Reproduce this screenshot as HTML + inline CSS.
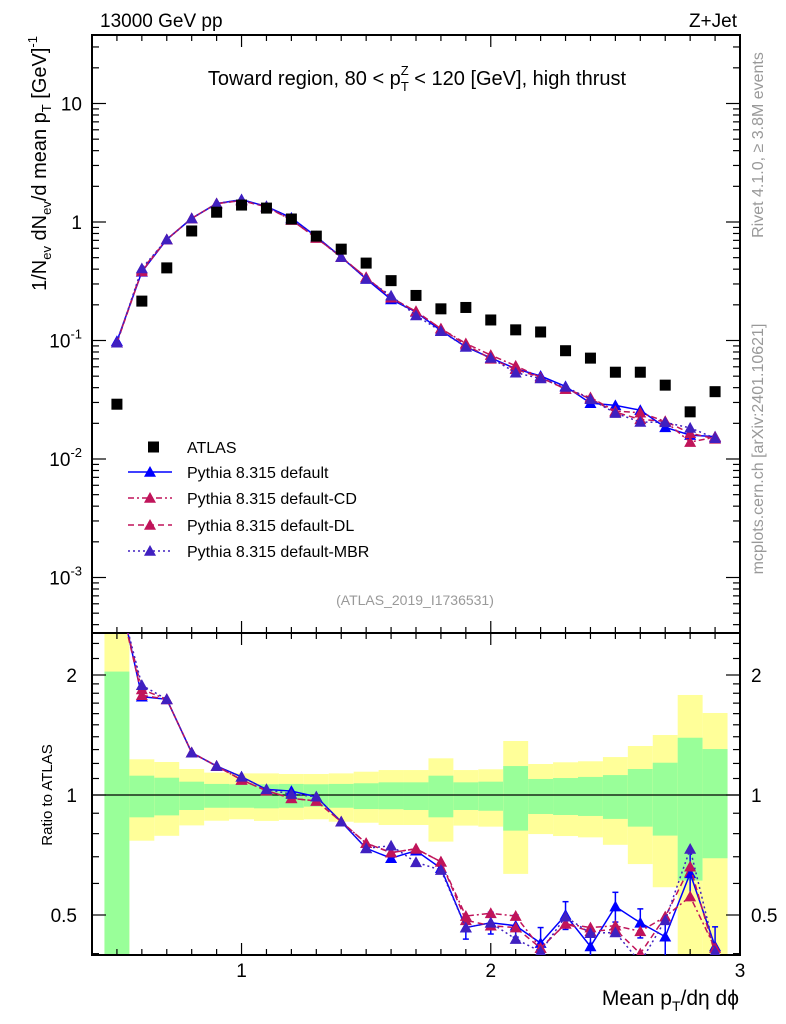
<!DOCTYPE html>
<html><head><meta charset="utf-8"><style>
html,body{margin:0;padding:0;background:#fff}
svg{display:block;font-family:"Liberation Sans",sans-serif}
</style></head><body>
<svg id="c" width="786" height="1024" viewBox="0 0 786 1024" xmlns="http://www.w3.org/2000/svg">
<text x="100" y="27" font-size="19">13000 GeV pp</text>
<text x="737" y="27" font-size="19" text-anchor="end">Z+Jet</text>
<text x="417" y="85" font-size="20" text-anchor="middle">Toward region, 80 &lt; p<tspan font-size="13" dy="6">T</tspan><tspan font-size="13" dx="-8" dy="-16">Z</tspan><tspan dy="10"> &lt; 120 [GeV], high thrust</tspan></text>
<text transform="translate(46,36) rotate(-90)" font-size="20" text-anchor="end">1/N<tspan font-size="13" dy="5">ev</tspan><tspan dy="-5"> dN</tspan><tspan font-size="13" dy="5">ev</tspan><tspan dy="-5">/d mean p</tspan><tspan font-size="13" dy="5">T</tspan><tspan dy="-5"> [GeV]</tspan><tspan font-size="13" dy="-9">-1</tspan></text>
<text transform="translate(52,795) rotate(-90)" font-size="15" text-anchor="middle">Ratio to ATLAS</text>
<text x="739" y="1005" font-size="21" text-anchor="end">Mean p<tspan font-size="14" dy="6">T</tspan><tspan dy="-6">/dη dϕ</tspan></text>
<text transform="translate(763,145) rotate(-90)" font-size="16" fill="#999" text-anchor="middle">Rivet 4.1.0, ≥ 3.8M events</text>
<text transform="translate(763,449) rotate(-90)" font-size="16" fill="#999" text-anchor="middle">mcplots.cern.ch [arXiv:2401.10621]</text>
<text x="415" y="605" font-size="14" fill="#999" text-anchor="middle">(ATLAS_2019_I1736531)</text>
<g id="g"></g>
</svg>
<script>
const xCenters=[0.5,0.6,0.7,0.8,0.9,1.0,1.1,1.2,1.3,1.4,1.5,1.6,1.7,1.8,1.9,2.0,2.1,2.2,2.3,2.4,2.5,2.6,2.7,2.8,2.9];
const atlasVals=[0.029,0.215,0.41,0.84,1.21,1.39,1.31,1.06,0.76,0.59,0.45,0.32,0.24,0.185,0.19,0.149,0.123,0.118,0.082,0.071,0.054,0.054,0.042,0.025,0.037];
const ratioDefault=[3.4,1.765,1.738,1.277,1.182,1.111,1.033,1.023,0.99,0.857,0.735,0.694,0.725,0.655,0.465,0.478,0.47,0.425,0.5,0.417,0.525,0.478,0.441,0.636,0.417];
const ratioCD=[3.3,1.84,1.738,1.277,1.182,1.091,1.025,0.981,0.966,0.857,0.757,0.717,0.733,0.68,0.497,0.505,0.497,0.413,0.475,0.465,0.47,0.455,0.495,0.556,0.413];
const ratioDL=[3.3,1.78,1.738,1.277,1.182,1.091,1.025,0.981,0.966,0.857,0.757,0.717,0.733,0.68,0.485,0.47,0.465,0.413,0.475,0.455,0.46,0.40,0.495,0.661,0.40];
const ratioMBR=[3.3,1.886,1.738,1.277,1.182,1.111,1.033,1.005,0.99,0.857,0.735,0.746,0.678,0.648,0.465,0.478,0.435,0.405,0.495,0.45,0.452,0.38,0.485,0.732,0.405];
const errDefault=[0,0,0,0,0,0,0,0,0,0,0,0,0,0.02,0.03,0.03,0.03,0.04,0.04,0.04,0.045,0.04,0.05,0.08,0.05];
const bandInnerHi=[2.04,1.118,1.105,1.08,1.066,1.064,1.064,1.066,1.064,1.066,1.07,1.076,1.076,1.118,1.076,1.08,1.182,1.097,1.103,1.11,1.122,1.162,1.205,1.392,1.304];
const bandInnerLo=[0.3,0.879,0.889,0.917,0.929,0.929,0.926,0.929,0.935,0.929,0.922,0.921,0.917,0.879,0.917,0.913,0.814,0.896,0.891,0.886,0.871,0.833,0.791,0.610,0.694];
const bandOuterHi=[3,1.229,1.21,1.162,1.138,1.133,1.133,1.129,1.129,1.133,1.144,1.155,1.155,1.236,1.155,1.16,1.366,1.196,1.208,1.215,1.245,1.327,1.414,1.782,1.606];
const bandOuterLo=[0.3,0.768,0.79,0.839,0.862,0.869,0.861,0.866,0.869,0.857,0.852,0.841,0.841,0.764,0.838,0.833,0.634,0.798,0.789,0.783,0.750,0.671,0.587,0.3,0.3];
const xTickLabels=["1","2","3"];
const yTickLabels=["10","1","10","10","10"];

const NS="http://www.w3.org/2000/svg";
const g=document.getElementById('g');
const L=92,R=740,T=35,B=633,RB=955;
function X(v){return L+(v-0.4)/2.6*(R-L);}
function Y(v){return 222-118.5*Math.log10(v);}
function RY(v){return 795-120*Math.log2(v);}
function mk(t,a,p){const e=document.createElementNS(NS,t);for(const k in a)e.setAttribute(k,a[k]);(p||g).appendChild(e);return e;}

const bands=mk('g',{});


const clip=mk('clipPath',{id:'rc'});mk('rect',{x:L,y:B,width:R-L,height:RB-B},clip);
const bclip=mk('g',{'clip-path':'url(#rc)'},bands);
xCenters.forEach((c,i)=>{
 const x0=X(c-0.05),x1=X(c+0.05);
 const y1=mk('rect',{x:x0,y:RY(bandOuterHi[i]),width:x1-x0,height:RY(bandOuterLo[i])-RY(bandOuterHi[i]),fill:'#ffff99'},bclip);
 
 
 const g1=mk('rect',{x:x0,y:RY(bandInnerHi[i]),width:x1-x0,height:RY(bandInnerLo[i])-RY(bandInnerHi[i]),fill:'#99ff99'},bclip);
 
 
});
mk('line',{x1:L,x2:R,y1:RY(1),y2:RY(1),stroke:'#000','stroke-width':1.3});

const f1=mk('rect',{x:L,y:T,width:R-L,height:B-T,fill:'none',stroke:'#000','stroke-width':2});

const f2=mk('rect',{x:L,y:B,width:R-L,height:RB-B,fill:'none',stroke:'#000','stroke-width':2});


for(let k=4;k<=30;k++){const v=k/10,x=X(v),maj=k%10==0;const l=maj?12:6;
 [[T,1],[B,-1],[B,1],[RB,-1]].forEach(([y,d])=>mk('line',{x1:x,x2:x,y1:y,y2:y+d*l,stroke:'#000','stroke-width':1.2}));}
xTickLabels.forEach((t,i)=>{const e=mk('text',{x:X(i+1),y:977,'font-size':19,'text-anchor':'middle'});e.textContent=t;
 });
for(let d=-4;d<=1;d++)for(let m=1;m<10;m++){const v=m*Math.pow(10,d),y=Y(v);if(y<T||y>B)continue;const l=m==1?14:7;
 mk('line',{x1:L,x2:L+l,y1:y,y2:y,stroke:'#000','stroke-width':1.2});mk('line',{x1:R,x2:R-l,y1:y,y2:y,stroke:'#000','stroke-width':1.2});}
const ex=[null,null,"-1","-2","-3"];
yTickLabels.forEach((t,i)=>{const y=Y(Math.pow(10,1-i))+7;const e=mk('text',{x:ex[i]?70:82,y:y,'font-size':19,'text-anchor':'end'});e.textContent=t;
 if(ex[i]){const s=mk('tspan',{'font-size':13,dy:-9},e);s.textContent=ex[i];e.setAttribute('x',82);}
 });
[0.4,0.5,0.6,0.7,0.8,0.9,1,1.1,1.2,1.3,1.4,1.5,1.6,1.7,1.8,1.9,2,2.2,2.4].forEach(v=>{const y=RY(v);const maj=(v==0.5||v==1||v==2);const l=maj?14:7;
 mk('line',{x1:L,x2:L+l,y1:y,y2:y,stroke:'#000','stroke-width':1.2});mk('line',{x1:R,x2:R-l,y1:y,y2:y,stroke:'#000','stroke-width':1.2});});
[["2",2],["1",1],["0.5",0.5]].forEach(([t,v])=>{
 const a=mk('text',{x:77,y:RY(v)+7,'font-size':19,'text-anchor':'end'});a.textContent=t;
 const b=mk('text',{x:751,y:RY(v)+7,'font-size':19});b.textContent=t;});

const mclip=mk('clipPath',{id:'mc'});mk('rect',{x:L,y:T,width:R-L,height:B-T},mclip);
function tri(p,x,y,c,s){mk('path',{d:`M${x} ${y-s}L${x+s} ${y+s*0.8}L${x-s} ${y+s*0.8}Z`,fill:c},p);}
const series=[
 {n:'default',r:ratioDefault,c:'#0000ff',dash:'',err:errDefault},
 {n:'default-cd',r:ratioCD,c:'#c0145a',dash:'6 3 2 3',err:null},
 {n:'default-dl',r:ratioDL,c:'#c0145a',dash:'6 4',err:null},
 {n:'default-mbr',r:ratioMBR,c:'#4020c0',dash:'2 3',err:null}];
series.forEach(s=>{
 const gm=mk('g',{'clip-path':'url(#mc)'});
 
 const pts=xCenters.map((c,i)=>[X(c),Y(s.r[i]*atlasVals[i])]);
 mk('polyline',{points:pts.map(p=>p.join(',')).join(' '),fill:'none',stroke:s.c,'stroke-width':1.5,'stroke-dasharray':s.dash},gm);
 pts.forEach(p=>tri(gm,p[0],p[1],s.c,6));
 const gr=mk('g',{'clip-path':'url(#rc)'});
 
 const rp=xCenters.map((c,i)=>[X(c),RY(s.r[i])]);
 mk('polyline',{points:rp.map(p=>p.join(',')).join(' '),fill:'none',stroke:s.c,'stroke-width':1.5,'stroke-dasharray':s.dash},gr);
 rp.forEach((p,i)=>{tri(gr,p[0],p[1],s.c,6);
  if(s.err&&s.err[i]>0){const a=RY(s.r[i]+s.err[i]),b=RY(s.r[i]-s.err[i]);
   mk('line',{x1:p[0],x2:p[0],y1:a,y2:b,stroke:s.c,'stroke-width':1.5},gr);
   mk('line',{x1:p[0]-3,x2:p[0]+3,y1:a,y2:a,stroke:s.c,'stroke-width':1.5},gr);
   mk('line',{x1:p[0]-3,x2:p[0]+3,y1:b,y2:b,stroke:s.c,'stroke-width':1.5},gr);}});
});
const ga=mk('g',{});

xCenters.forEach((c,i)=>{const x=X(c),y=Y(atlasVals[i]);mk('rect',{x:x-5.5,y:y-5.5,width:11,height:11,fill:'#000'},ga);});

const lg=mk('g',{});

const items=[['ATLAS',null],['Pythia 8.315 default',series[0]],['Pythia 8.315 default-CD',series[1]],['Pythia 8.315 default-DL',series[2]],['Pythia 8.315 default-MBR',series[3]]];
const ly=[447,472,498,525,551];
items.forEach((it,i)=>{const y=ly[i];const e=mk('g',{},lg);
 
 if(!it[1])mk('rect',{x:148,y:y-5.5,width:11,height:11,fill:'#000'},e);
 else{mk('line',{x1:128,x2:172,y1:y,y2:y,stroke:it[1].c,'stroke-width':1.5,'stroke-dasharray':it[1].dash},e);tri(e,150,y,it[1].c,6);}
 const t=mk('text',{x:187,y:y+6,'font-size':16},e);t.textContent=it[0];});
</script>
</body></html>
